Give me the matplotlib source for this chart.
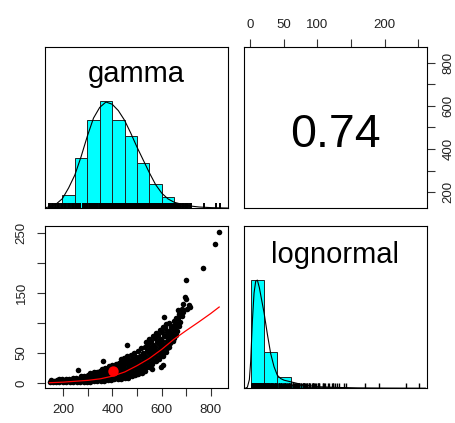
import matplotlib
matplotlib.use('Agg')
import matplotlib.pyplot as plt
import numpy as np

plt.rcParams['font.family'] = ['Liberation Sans', 'DejaVu Sans']

# ---------------- data ----------------
var_names = ['gamma', 'lognormal']
corr_value = 0.74

# scatter points (gamma on x, lognormal on y), listed column by column
scatter_gamma = [
    145, 149,
    157, 161,
    170, 174,
    184, 188, 182,
    198, 202, 196,
    212, 216, 210,
    226, 230, 224,
    241, 245, 239,
    255, 259, 253, 258,
    268, 272, 266, 271,
    283, 287, 281, 286,
    296, 300, 294, 299,
    310, 314, 308, 313, 309,
    324, 328, 322, 327, 323,
    338, 342, 336, 341, 337,
    352, 356, 350, 355, 351, 357,
    366, 370, 364, 369, 365, 371, 363,
    380, 384, 378, 383, 379, 385,
    394, 398, 392, 397, 393, 399,
    408, 412, 406, 411, 407, 413,
    422, 426, 420, 425, 421, 427,
    436, 440, 434, 439, 435, 441, 433,
    450, 454, 448, 453, 449, 455, 447, 461,
    464, 468, 462, 467, 463, 469, 461,
    478, 482, 476, 481, 477, 483, 475,
    492, 496, 490, 495, 491, 497, 489,
    506, 510, 504, 509, 505, 511, 503,
    520, 524, 518, 523, 519, 525, 517,
    534, 538, 532, 537, 533, 539, 531, 536,
    548, 552, 546, 551, 547, 553, 545, 550,
    562, 566, 560, 565, 561, 567, 559, 564,
    576, 580, 574, 579, 575, 581, 573, 578,
    590, 594, 588, 593, 589, 595, 587, 592,
    604, 608, 602, 607, 603, 609, 601, 606, 612,
    618, 622, 616, 621, 617, 623, 615, 620,
    632, 636, 630, 635, 631, 637, 629,
    646, 650, 644, 649, 645, 651,
    658, 662, 656, 661, 657,
    670, 674, 668, 673, 669,
    684, 688, 682, 687,
    696, 699, 701, 705, 712, 717,
    561, 598, 604,
    771, 819, 835,
]
scatter_lognormal = [
    2, 4.5,
    1.5, 4,
    2, 5,
    1.5, 4.5, 6,
    1.5, 4, 6.5,
    2, 5, 7,
    1.5, 4.5, 7.5,
    2, 5, 8,
    2, 5.5, 9, 21,
    2, 5, 8, 11,
    2, 5.5, 9, 12,
    2, 5.5, 9.5, 13.5,
    2.5, 6, 10, 14, 16,
    3, 7, 11, 15, 18,
    3, 7, 11, 15, 19,
    3.5, 7.5, 12, 16, 20, 24,
    4, 8, 12.5, 17, 21, 25, 36,
    4.5, 9, 14, 19, 23, 28,
    5, 10, 15, 20, 25, 30,
    6, 11, 16, 21, 26, 32,
    6.5, 12, 17, 22, 27, 33,
    7, 12, 17, 23, 29, 35, 40,
    8, 13, 18, 24, 30, 36, 42, 63,
    9, 14, 20, 26, 32, 38, 45,
    11, 16, 22, 28, 34, 40, 47,
    13, 19, 25, 31, 37, 43, 50,
    15, 21, 27, 33, 39, 46, 54,
    17, 23, 29, 36, 43, 50, 58,
    20, 26, 32, 39, 46, 53, 60, 68,
    26, 32, 38, 44, 51, 58, 65, 73,
    31, 37, 43, 49, 56, 63, 70, 78,
    36, 42, 48, 54, 61, 68, 75, 83,
    40, 46, 52, 59, 66, 73, 80, 88,
    45, 51, 57, 64, 71, 78, 85, 93, 110,
    52, 58, 64, 71, 78, 85, 92, 98,
    61, 67, 73, 80, 87, 94, 101,
    70, 76, 82, 89, 96, 103,
    80, 87, 94, 101, 108,
    95, 102, 109, 116, 122,
    112, 118, 124, 132,
    143, 140, 172, 124, 130, 127,
    24, 26, 30,
    192, 233, 252,
]

# smoother (red line) and the mean point
smooth_gamma = [143, 200, 250, 300, 350, 400, 450, 500, 550, 600, 650, 700, 750, 800, 835]
smooth_lognormal = [0.5, 1.5, 3, 4.5, 7, 11.5, 18.5, 29, 41, 56, 73, 87.5, 101.5, 116, 127]
mean_gamma = 404
mean_lognormal = 19.5

# gamma histogram (bar heights relative to the tallest bar)
gamma_bin_edges = [100, 150, 200, 250, 300, 350, 400, 450, 500, 550, 600, 650, 700, 750, 800, 850]
gamma_hist = [0.002, 0.015, 0.124, 0.465, 0.82, 1.0, 0.827, 0.672, 0.418, 0.226, 0.108, 0.025, 0.006, 0.003, 0.003]
# gamma density curve (scaled to max 1)
gamma_dens_x = [130, 150, 175, 200, 225, 250, 275, 300, 325, 350, 375, 400, 425, 450, 475, 500,
                525, 550, 575, 600, 625, 650, 700, 750, 800, 866]
gamma_dens_y = [0.005, 0.015, 0.04, 0.09, 0.19, 0.31, 0.48, 0.67, 0.84, 0.94, 0.99, 0.97, 0.91, 0.82,
                0.70, 0.57, 0.45, 0.33, 0.22, 0.14, 0.087, 0.056, 0.025, 0.012, 0.006, 0.002]

# lognormal histogram
logn_bin_edges = [0, 20, 40, 60, 80, 100, 120, 140, 160, 180, 200, 220, 240, 260]
logn_hist = [1.0, 0.34, 0.10, 0.035, 0.015, 0.008, 0.004, 0.002, 0.002, 0.001, 0.001, 0.001, 0.001]
# lognormal density curve
logn_dens_x = [-8, -5, -2, 0, 2.5, 5, 7.5, 10, 13, 16, 20, 25, 30, 35, 40, 45, 50, 60, 70, 80,
               100, 130, 160, 200, 262]
logn_dens_y = [0.0, 0.01, 0.08, 0.25, 0.62, 0.88, 0.99, 1.0, 0.93, 0.83, 0.70, 0.50, 0.32, 0.2,
               0.12, 0.09, 0.075, 0.06, 0.045, 0.03, 0.015, 0.008, 0.004, 0.002, 0.001]

gamma_ticks = [200, 300, 400, 500, 600, 700, 800]
gamma_ticklabels = ['200', '', '400', '', '600', '', '800']
logn_ticks = [0, 50, 100, 150, 200, 250]
logn_ticklabels_left = ['0', '50', '', '150', '', '250']
logn_ticklabels_top = ['0', '50', '100', '', '200', '']

# ---------------- figure ----------------
W, H = 456, 423
fig = plt.figure(figsize=(W / 100, H / 100), dpi=100)


def px_axes(x0, y0, x1, y1):
    return fig.add_axes([x0 / W, 1 - y1 / H, (x1 - x0) / W, (y1 - y0) / H])


ax_tl = px_axes(45, 47.3, 228, 208.3)
ax_tr = px_axes(244.3, 47.3, 426.7, 208.3)
ax_bl = px_axes(45, 226, 228, 388.3)
ax_br = px_axes(244.3, 226, 426.7, 388.3)

for ax in (ax_tl, ax_tr, ax_bl, ax_br):
    for s in ax.spines.values():
        s.set_linewidth(0.8)
        s.set_color('black')
    ax.tick_params(length=6, width=0.8, labelsize=9.5, color='#333333', labelcolor='#222222')

hist_col = '#00FFFF'
GAMMA_LIM = (125, 871)
LOGN_LIM = (-8.8, 262.4)

# --- top-left: gamma histogram ---
ge = np.array(gamma_bin_edges, dtype=float)
ax_tl.bar(ge[:-1], gamma_hist, width=np.diff(ge), align='edge', color=hist_col,
          edgecolor='#222222', linewidth=0.7, zorder=1)
ax_tl.plot(gamma_dens_x, gamma_dens_y, color='black', lw=0.8, zorder=2)
ax_tl.vlines(scatter_gamma, 0, 0.047, color='black', lw=1.4, zorder=3)
ax_tl.set_xlim(130, 866)
ax_tl.set_ylim(0, 1.5)
ax_tl.set_xticks([])
ax_tl.set_yticks([])
ax_tl.text(0.5, 0.786, var_names[0], transform=ax_tl.transAxes, ha='center', va='baseline',
           fontsize=21)

# --- bottom-right: lognormal histogram ---
le = np.array(logn_bin_edges, dtype=float)
ax_br.bar(le[:-1], logn_hist, width=np.diff(le), align='edge', color=hist_col,
          edgecolor='#222222', linewidth=0.7, zorder=1)
ax_br.plot(logn_dens_x, logn_dens_y, color='black', lw=0.8, zorder=2)
ax_br.vlines(scatter_lognormal, 0, 0.047, color='black', lw=1.0, zorder=3)
ax_br.set_xlim(-9.6, 264)
ax_br.set_ylim(0, 1.5)
ax_br.set_xticks([])
ax_br.set_yticks([])
ax_br.text(0.5, 0.77, var_names[1], transform=ax_br.transAxes, ha='center', va='baseline',
           fontsize=21)

# --- top-right: correlation ---
ax_tr.set_xlim(*LOGN_LIM)
ax_tr.set_ylim(*GAMMA_LIM)
ax_tr.xaxis.tick_top()
ax_tr.yaxis.tick_right()
ax_tr.set_xticks(logn_ticks)
ax_tr.set_xticklabels(logn_ticklabels_top)
ax_tr.set_yticks(gamma_ticks)
ax_tr.set_yticklabels(gamma_ticklabels, rotation=90, va='center', ha='left')
ax_tr.tick_params(axis='x', pad=6)
ax_tr.tick_params(axis='y', pad=5.5)
ax_tr.text(0.5, 0.383, f'{corr_value:.2f}', transform=ax_tr.transAxes, ha='center',
           va='baseline', fontsize=33.5)

# --- bottom-left: scatter ---
ax_bl.plot(scatter_gamma, scatter_lognormal, 'o', ms=4.0, mew=0, color='black', zorder=2)
ax_bl.plot(smooth_gamma, smooth_lognormal, color='red', lw=0.9, zorder=3)
ax_bl.plot([mean_gamma], [mean_lognormal], 'o', ms=7.5, mew=0, color='red', zorder=4)
ax_bl.set_xlim(*GAMMA_LIM)
ax_bl.set_ylim(*LOGN_LIM)
ax_bl.set_xticks(gamma_ticks)
ax_bl.set_xticklabels(gamma_ticklabels)
ax_bl.set_yticks(logn_ticks)
ax_bl.set_yticklabels(logn_ticklabels_left, rotation=90, va='center', ha='right')
ax_bl.tick_params(axis='x', pad=5.5)
ax_bl.tick_params(axis='y', pad=6.5)

fig.savefig('out.png', dpi=100, facecolor='white')
